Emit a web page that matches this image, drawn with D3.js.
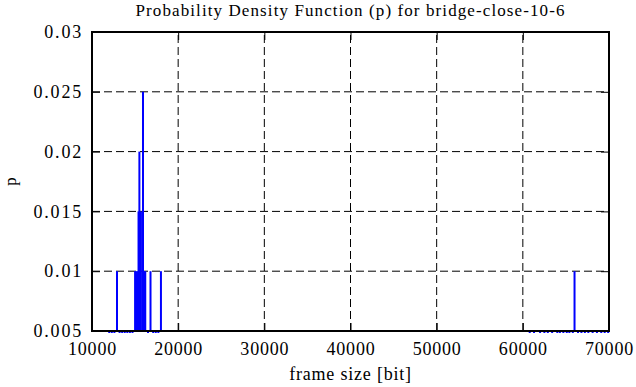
<!DOCTYPE html>
<html>
<head>
<meta charset="utf-8">
<script src="https://cdn.jsdelivr.net/npm/d3@7"></script>
<style>
  body { margin: 0; background: #fff; }
</style>
</head>
<body>
<div id="chart"></div>
<script>
// frame sizes (bit) and probabilities
var frameSizes = [12900, 15000, 15150, 15300, 15400, 15500, 15680, 15920, 16050, 16180, 16790, 18000, 66000];
var probs      = [0.01,  0.01,  0.01,  0.01,  0.015, 0.02,  0.015, 0.025, 0.01,  0.01,  0.01,  0.01,  0.01];

// frames sitting on the lower edge of the y range
var lowSizes = [12000, 12300, 12600, 13200, 13500, 13800, 14100, 14400, 14700, 16500, 17100, 17400, 17700,
                60800, 61300, 62000, 62500, 62900, 63400, 64000, 64300, 64700, 65100, 65400, 65800,
                66400, 66800, 67200, 67600, 68100, 68600, 69100, 69500, 69900];
var lowProbs = lowSizes.map(function() { return 0.005; });

var xTicks = [10000, 20000, 30000, 40000, 50000, 60000, 70000];
var yTicks = [0.005, 0.01, 0.015, 0.02, 0.025, 0.03];

var width = 636,
  height = 387,
  margin = { top: 32, right: 27, bottom: 56, left: 92 },
  serif = "Liberation Serif";

var svg = d3.select("#chart")
  .append("svg")
  .attr("width", width)
  .attr("height", height)
  .attr("font-family", serif);

var x = d3.scaleLinear()
  .domain([10000, 70000])
  .range([margin.left, width - margin.right]);

var y = d3.scaleLinear()
  .domain([0.005, 0.03])
  .range([height - margin.bottom, margin.top]);

// grid
svg.append("g")
  .selectAll("line")
  .data(xTicks.slice(1, -1))
  .enter()
  .append("line")
  .attr("x1", function(d) { return x(d); })
  .attr("x2", function(d) { return x(d); })
  .attr("y1", y(0.005))
  .attr("y2", y(0.03))
  .attr("stroke", "#000")
  .attr("stroke-width", 1)
  .style("stroke-dasharray", "8,4");

svg.append("g")
  .selectAll("line")
  .data(yTicks.slice(1, -1))
  .enter()
  .append("line")
  .attr("x1", x(10000))
  .attr("x2", x(70000))
  .attr("y1", function(d) { return y(d); })
  .attr("y2", function(d) { return y(d); })
  .attr("stroke", "#000")
  .attr("stroke-width", 1)
  .style("stroke-dasharray", "8,4");

// impulses
var plot = svg.append("g")
  .attr("stroke", "#0000ff")
  .attr("stroke-width", 2);

plot.selectAll(".low")
  .data(lowSizes)
  .enter()
  .append("line")
  .attr("class", "low")
  .attr("x1", function(d) { return x(d); })
  .attr("x2", function(d) { return x(d); })
  .attr("y1", function(d, i) { return y(lowProbs[i]) + 1; })
  .attr("y2", function(d, i) { return y(lowProbs[i]) + 1; })
  .attr("stroke-linecap", "square");

plot.selectAll(".imp")
  .data(frameSizes)
  .enter()
  .append("line")
  .attr("class", "imp")
  .attr("x1", function(d) { return x(d); })
  .attr("x2", function(d) { return x(d); })
  .attr("y1", y(0.005))
  .attr("y2", function(d, i) { return y(probs[i]); });

// axes with inward ticks on all four sides
var tickLen = 8;
svg.append("g")
  .attr("class", "xaxis")
  .attr("transform", "translate(0," + y(0.005) + ")")
  .call(d3.axisBottom(x).tickValues(xTicks).tickSize(-tickLen).tickFormat(d3.format("d")));
svg.append("g")
  .attr("transform", "translate(0," + y(0.03) + ")")
  .call(d3.axisTop(x).tickValues(xTicks).tickSize(-tickLen).tickFormat(""));
svg.append("g")
  .attr("class", "yaxis")
  .attr("transform", "translate(" + x(10000) + ",0)")
  .call(d3.axisLeft(y).tickValues(yTicks).tickSize(-tickLen).tickPadding(9).tickFormat(function(d) { return String(+d.toFixed(3)); }));
svg.append("g")
  .attr("transform", "translate(" + x(70000) + ",0)")
  .call(d3.axisRight(y).tickValues(yTicks).tickSize(-tickLen).tickFormat(""));

svg.selectAll(".domain").remove();
svg.selectAll("g").attr("font-family", serif);
svg.selectAll(".tick line").attr("stroke", "#000").attr("stroke-width", 1);
svg.selectAll(".tick text")
  .attr("font-family", serif)
  .style("font-size", "18px")
  .style("letter-spacing", "0.8px")
  .attr("fill", "#000");
svg.selectAll(".xaxis .tick text").attr("y", 24).attr("dy", null);
svg.selectAll(".yaxis .tick text").style("letter-spacing", "1.8px");

// border
svg.append("rect")
  .attr("x", x(10000))
  .attr("y", y(0.03))
  .attr("width", x(70000) - x(10000))
  .attr("height", y(0.005) - y(0.03))
  .attr("fill", "none")
  .attr("stroke", "#000")
  .attr("stroke-width", 2);

// labels
svg.append("text")
  .attr("x", (x(10000) + x(70000)) / 2)
  .attr("y", 15.5)
  .attr("text-anchor", "middle")
  .attr("font-family", serif)
  .style("font-size", "17px")
  .style("letter-spacing", "1.1px")
  .text("Probability Density Function (p) for bridge-close-10-6");

svg.append("text")
  .attr("x", (x(10000) + x(70000)) / 2)
  .attr("y", 380)
  .attr("text-anchor", "middle")
  .attr("font-family", serif)
  .style("font-size", "18px")
  .style("letter-spacing", "0.8px")
  .text("frame size [bit]");

svg.append("text")
  .attr("transform", "translate(16," + ((y(0.005) + y(0.03)) / 2) + ") rotate(-90)")
  .attr("text-anchor", "middle")
  .attr("font-family", serif)
  .style("font-size", "17px")
  .text("p");
</script>
</body>
</html>
